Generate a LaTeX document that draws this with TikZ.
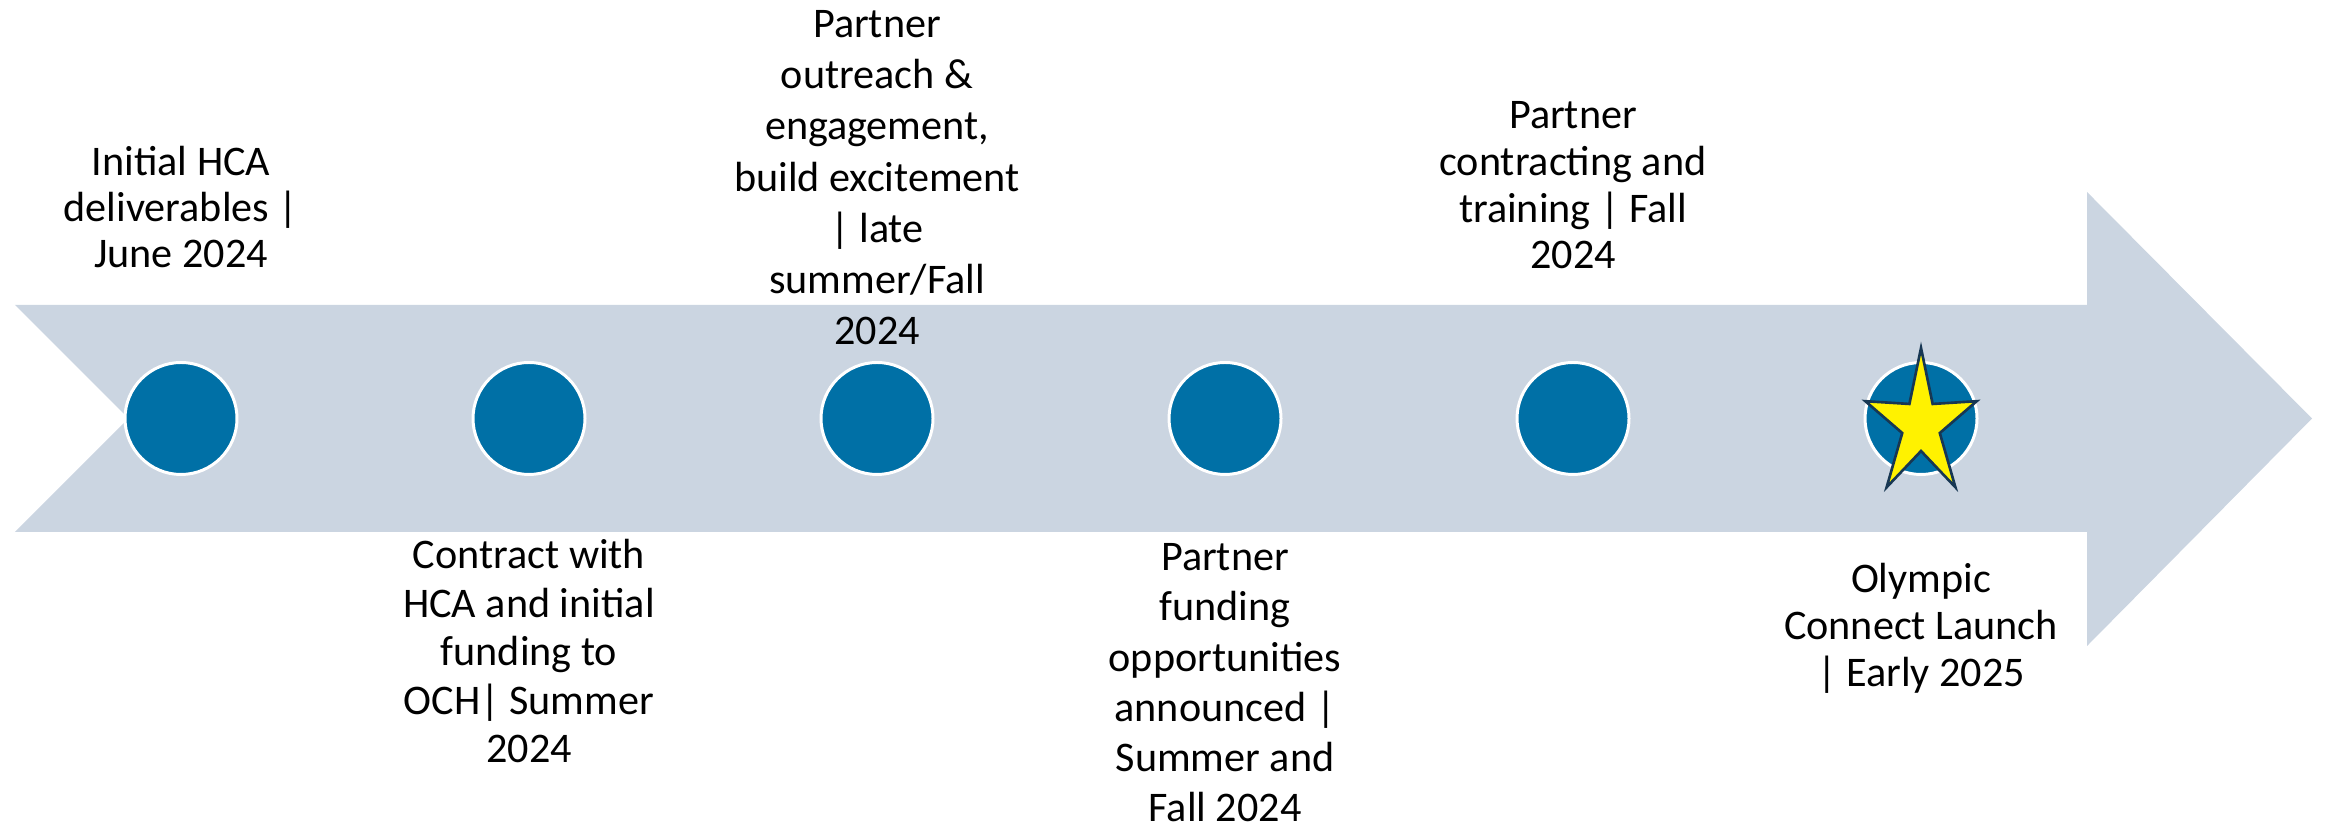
\documentclass[tikz,border=0pt]{standalone}
\usepackage{fontspec}
\setmainfont{Carlito}
\definecolor{bandgray}{RGB}{203,213,225}
\definecolor{dotblue}{RGB}{0,112,166}
\definecolor{starline}{RGB}{23,55,83}
\tikzset{
    dot/.style={circle,fill=dotblue,draw=white,line width=0.85pt,minimum size=1.12cm,inner sep=0pt},
    note/.style={align=center,anchor=base,inner sep=0pt,font=\fontsize{12}{#1}\selectfont},
    note/.default=13.4pt
}

\begin{document}
\begin{tikzpicture}

            %\draw [help lines] (0,0) grid (23,8);
            \useasboundingbox (0,0) rectangle (23.30,8.29);

            % the band
            \fill[bandgray] (0.15,5.24) -- (20.87,5.24) -- (20.87,6.37) -- (23.12,4.105)
                            -- (20.87,1.83) -- (20.87,2.97) -- (0.15,2.97) -- (1.285,4.105) -- cycle;

            \path   (1.81,4.105)  node (m1) [dot] {}
                    (5.29,4.105)  node (m2) [dot] {}
                    (8.77,4.105)  node (m3) [dot] {}
                    (12.25,4.105) node (m4) [dot] {}
                    (15.73,4.105) node (m5) [dot] {}
                    (19.21,4.105) node (m6) [dot] {};

            % star on the launch
            \begin{scope}[shift={(19.21,4.04)},xscale=0.76]
                \draw[fill=yellow,draw=starline,line width=0.75pt,line join=miter]
                    (90:0.77) \foreach \a in {1,...,4} {-- (90+72*\a-36:0.26) -- (90+72*\a:0.77)}
                    -- (54:0.26) -- cycle;
            \end{scope}

            % texts, placed by the baseline of their last line
            \path   (1.81,5.61)  node (t1) [note=13.1pt] {Initial HCA\\deliverables |\\June 2024}
                    (5.29,0.66)  node (t2) [note=13.8pt] {Contract with\\HCA and initial\\funding to\\OCH| Summer\\2024}
                    (8.77,4.84)  node (t3) [note=14.6pt] {Partner\\outreach \&\\engagement,\\build excitement\\| late\\summer/Fall\\2024}
                    (12.25,0.07) node (t4) [note=14.3pt] {Partner\\funding\\opportunities\\announced |\\Summer and\\Fall 2024}
                    (15.73,5.60) node (t5) [note=13.3pt] {Partner\\contracting and\\training | Fall\\2024}
                    (19.21,1.42) node (t6) [note] {Olympic\\Connect Launch\\| Early 2025};

        \end{tikzpicture}
\end{document}
